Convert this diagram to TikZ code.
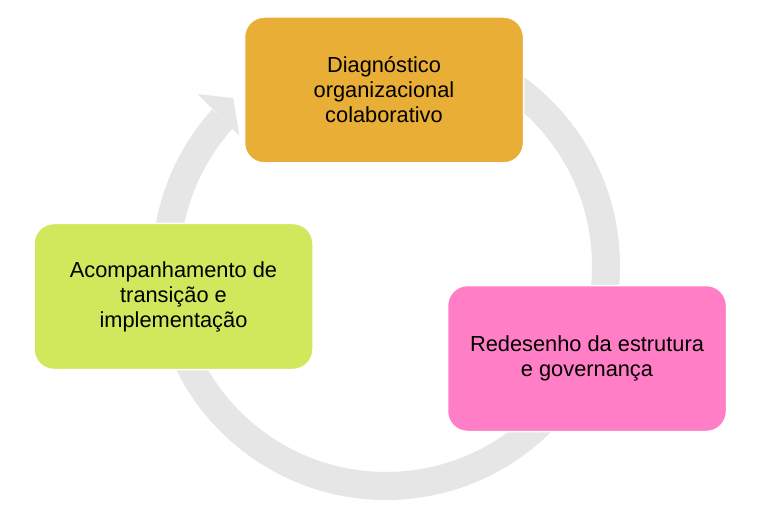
\documentclass[tikz,border=0pt]{standalone}
\usepackage{fontspec}
\setmainfont{Liberation Sans}
\usetikzlibrary{calc}
\definecolor{ringgrey}{HTML}{E6E6E6}
\definecolor{boxorange}{HTML}{E9AE35}
\definecolor{boxpink}{HTML}{FF7EC6}
\definecolor{boxgreen}{HTML}{D1E75C}
\begin{document}
\begin{tikzpicture}[x=1pt,y=1pt,
  stagebox/.style={rectangle, rounded corners=20pt, draw=white, line width=1.5pt,
    minimum width=279pt, minimum height=146pt, inner sep=0pt, align=center,
    font=\fontsize{21.8}{25}\selectfont, text=black}]
\useasboundingbox (0,0) rectangle (768,512);
\fill[white] (0,0) rectangle (768,512);
\coordinate (c) at (386,246);
% ring
\draw[ringgrey, line width=28pt] ([shift={(-222:220)}]c) arc[start angle=-222, end angle=80, radius=220];
% arrow head
\coordinate (bo) at ([shift={(137.6:255)}]c);
\coordinate (bi) at ([shift={(138.4:196)}]c);
\coordinate (tp) at ([shift={(132.3:227)}]c);
\fill[ringgrey] (bo) -- (tp) -- (bi) -- cycle;
% boxes
\node[stagebox, fill=boxorange] (diag) at (384,422) {Diagnóstico\\organizacional\\colaborativo};
\node[stagebox, fill=boxpink] (rede) at (587,153.5) {Redesenho da estrutura\\e governança};
\node[stagebox, fill=boxgreen] (acom) at (173.5,215.5) {Acompanhamento de\\transição e\\implementação};
\end{tikzpicture}
\end{document}
